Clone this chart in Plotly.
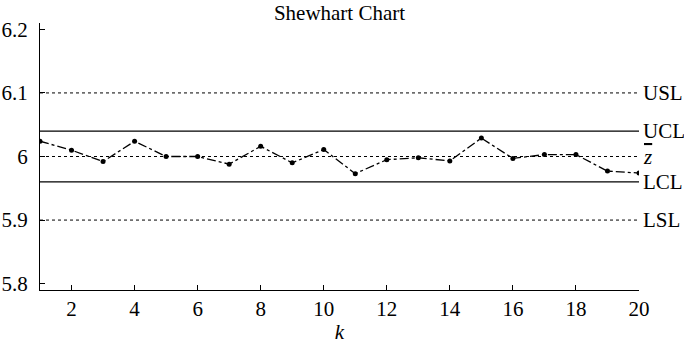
import plotly.graph_objects as go

k = list(range(1, 21))
z = [6.024, 6.010, 5.992, 6.024, 6.000, 6.000, 5.988, 6.016, 5.990, 6.011,
     5.973, 5.995, 5.998, 5.993, 6.029, 5.997, 6.003, 6.003, 5.977, 5.974]

limit_names = ["USL", "UCL", "<i>z</i>", "LCL", "LSL"]
limit_values = [6.10, 6.04, 6.00, 5.96, 5.90]
limit_dash = ["dot", "solid", "dot", "solid", "dot"]

x_ticks = list(range(2, 21, 2))
y_ticks = [5.8, 5.9, 6.0, 6.1, 6.2]
y_tick_text = ["5.8", "5.9", "6", "6.1", "6.2"]

FONT = "Liberation Serif"
FS = 21

fig = go.Figure()
for name, val, dash in zip(limit_names, limit_values, limit_dash):
    fig.add_trace(go.Scatter(
        x=[k[0], k[-1]], y=[val, val], mode="lines",
        line=dict(color="black", width=1.2 if dash == "solid" else 1, dash=dash),
        showlegend=False, hoverinfo="skip"))

fig.add_trace(go.Scatter(
    x=k, y=z, mode="lines+markers",
    line=dict(color="black", width=1.3, dash="dashdot"),
    marker=dict(color="black", size=5),
    showlegend=False))

for name, val in zip(limit_names, limit_values):
    txt = name
    if name == "<i>z</i>":
        txt = '<span style="text-decoration:overline"><i>z</i></span>'
    fig.add_annotation(x=k[-1], y=val, text=txt, showarrow=False,
                       xanchor="left", yanchor="middle", xshift=2,
                       font=dict(family=FONT, size=FS, color="black"))

fig.update_layout(
    template="none",
    width=684, height=344,
    margin=dict(l=40, r=45, t=23, b=54, autoexpand=False),
    paper_bgcolor="white", plot_bgcolor="white",
    font=dict(family=FONT, size=FS, color="black"),
    title=dict(text="Shewhart Chart", x=0.5, xref="paper", y=0.985, yanchor="top",
               font=dict(family=FONT, size=FS, color="black")),
    xaxis=dict(range=[1, 20], tickvals=x_ticks, ticks="inside", ticklen=5,
               tickcolor="black", showline=True, linecolor="black", linewidth=1.2,
               showgrid=False, zeroline=False, mirror=False, automargin=False,
               ticklabelstandoff=0,
               tickfont=dict(family=FONT, size=FS),
               title=dict(text="<i>k</i>", standoff=10,
                          font=dict(family=FONT, size=FS, color="black"))),
    yaxis=dict(range=[5.79, 6.21], tickvals=y_ticks, ticktext=y_tick_text,
               ticks="inside", ticklen=5, tickcolor="black", showline=True,
               automargin=False, ticklabelstandoff=7,
               tickfont=dict(family=FONT, size=FS),
               linecolor="black", linewidth=1.2, showgrid=False, zeroline=False),
)

fig.write_html("out.html")
